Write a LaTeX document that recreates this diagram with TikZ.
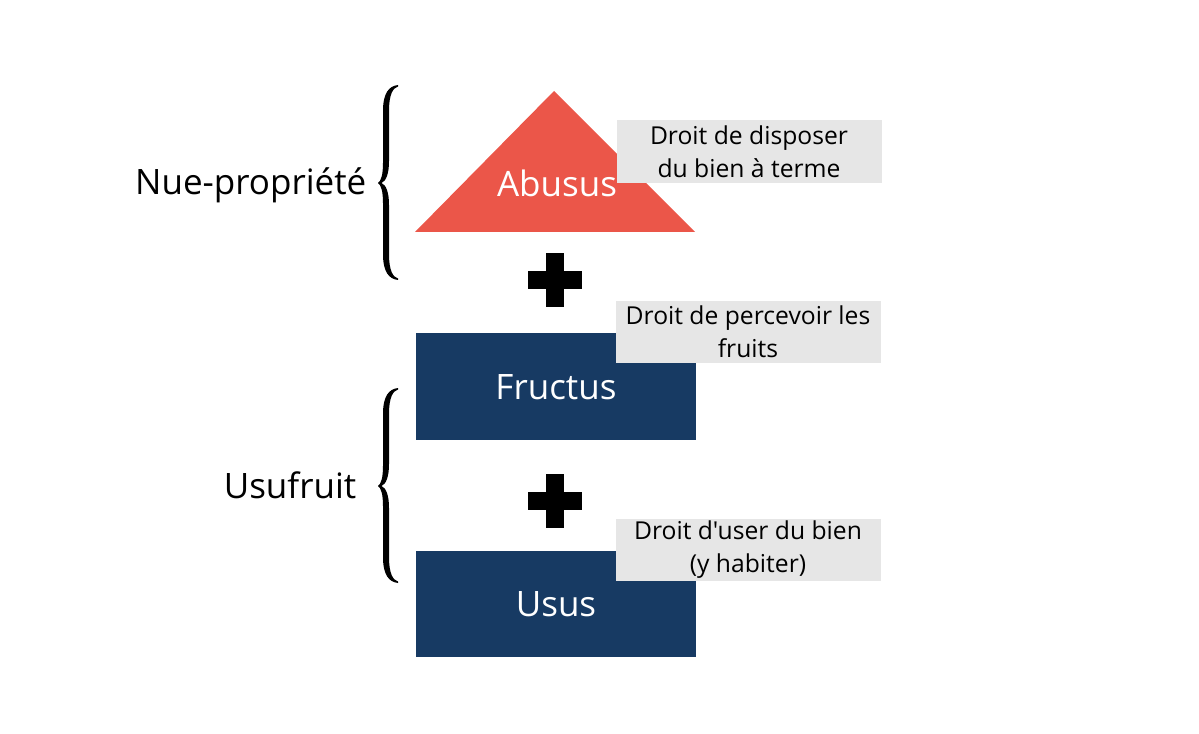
\documentclass[tikz,border=0pt]{standalone}
\usepackage{fontspec}
\setmainfont{Open Sans}[Ligatures=TeXOff]
\definecolor{abred}{HTML}{EB5649}
\definecolor{usblue}{HTML}{173A63}
\definecolor{notegray}{HTML}{E6E6E6}
\begin{document}
\begin{tikzpicture}[x=0.75pt, y=-0.75pt,
    big/.style={font=\fontsize{26.25}{31.5}\selectfont},
    blk/.style={big, fill=usblue, text=white, minimum width=210pt, inner sep=0pt, text height=18.75pt, text depth=0pt},
    note/.style={fill=notegray, minimum width=198.75pt, minimum height=47pt, inner sep=0pt, align=center, font=\fontsize{18.5}{24.75}\selectfont},
    curly/.pic={\fill (20,0) .. controls (11,1) and (5,8) .. (5,26) -- (5,78) .. controls (5,90) and (3,96) .. (0,98)
        .. controls (3,100) and (5,106) .. (5,118) -- (5,169) .. controls (5,187) and (11,194) .. (20,195)
        -- (20,193.5) .. controls (15,192) and (11,186) .. (11,169) -- (11,120) .. controls (11,107) and (8,100) .. (3.5,98)
        .. controls (8,96) and (11,89) .. (11,76) -- (11,26) .. controls (11,9) and (15,3) .. (20,1.5) -- cycle;},
    plusmark/.pic={\fill (-27,-9) rectangle (27,9); \fill (-9,-27) rectangle (9,27);}]
    \useasboundingbox (0,0) rectangle (1199,734);
    % roof: abusus
    \fill[abred] (415,232) -- (554,91) -- (695,232) -- cycle;
    \node [big, text=white, anchor=base] (Abusus) at (557,197) {Abusus};
    \pic at (555,280) {plusmark};
    % blocks: fructus and usus
    \node [blk, minimum height=80.25pt] (Fructus) at (556,386.5) {Fructus};
    \pic at (555,500.5) {plusmark};
    \node [blk, minimum height=79.5pt] (Usus) at (556,604) {Usus};
    % notes
    \node [note] (NoteAbusus) at (749,151.5) {Droit de disposer\\du bien à terme};
    \node [note] (NoteFructus) at (748,332) {Droit de percevoir les\\fruits};
    \node [note] (NoteUsus) at (748,550) {Droit d'user du bien\\(y habiter)};
    % braces
    \pic at (378,85) {curly};
    \pic at (378,388) {curly};
    \node [big, anchor=base east] (Nue) at (371,195) {Nue-propriété};
    \node [big, anchor=base east] (Usufruit) at (361,498) {Usufruit};
\end{tikzpicture}
\end{document}
